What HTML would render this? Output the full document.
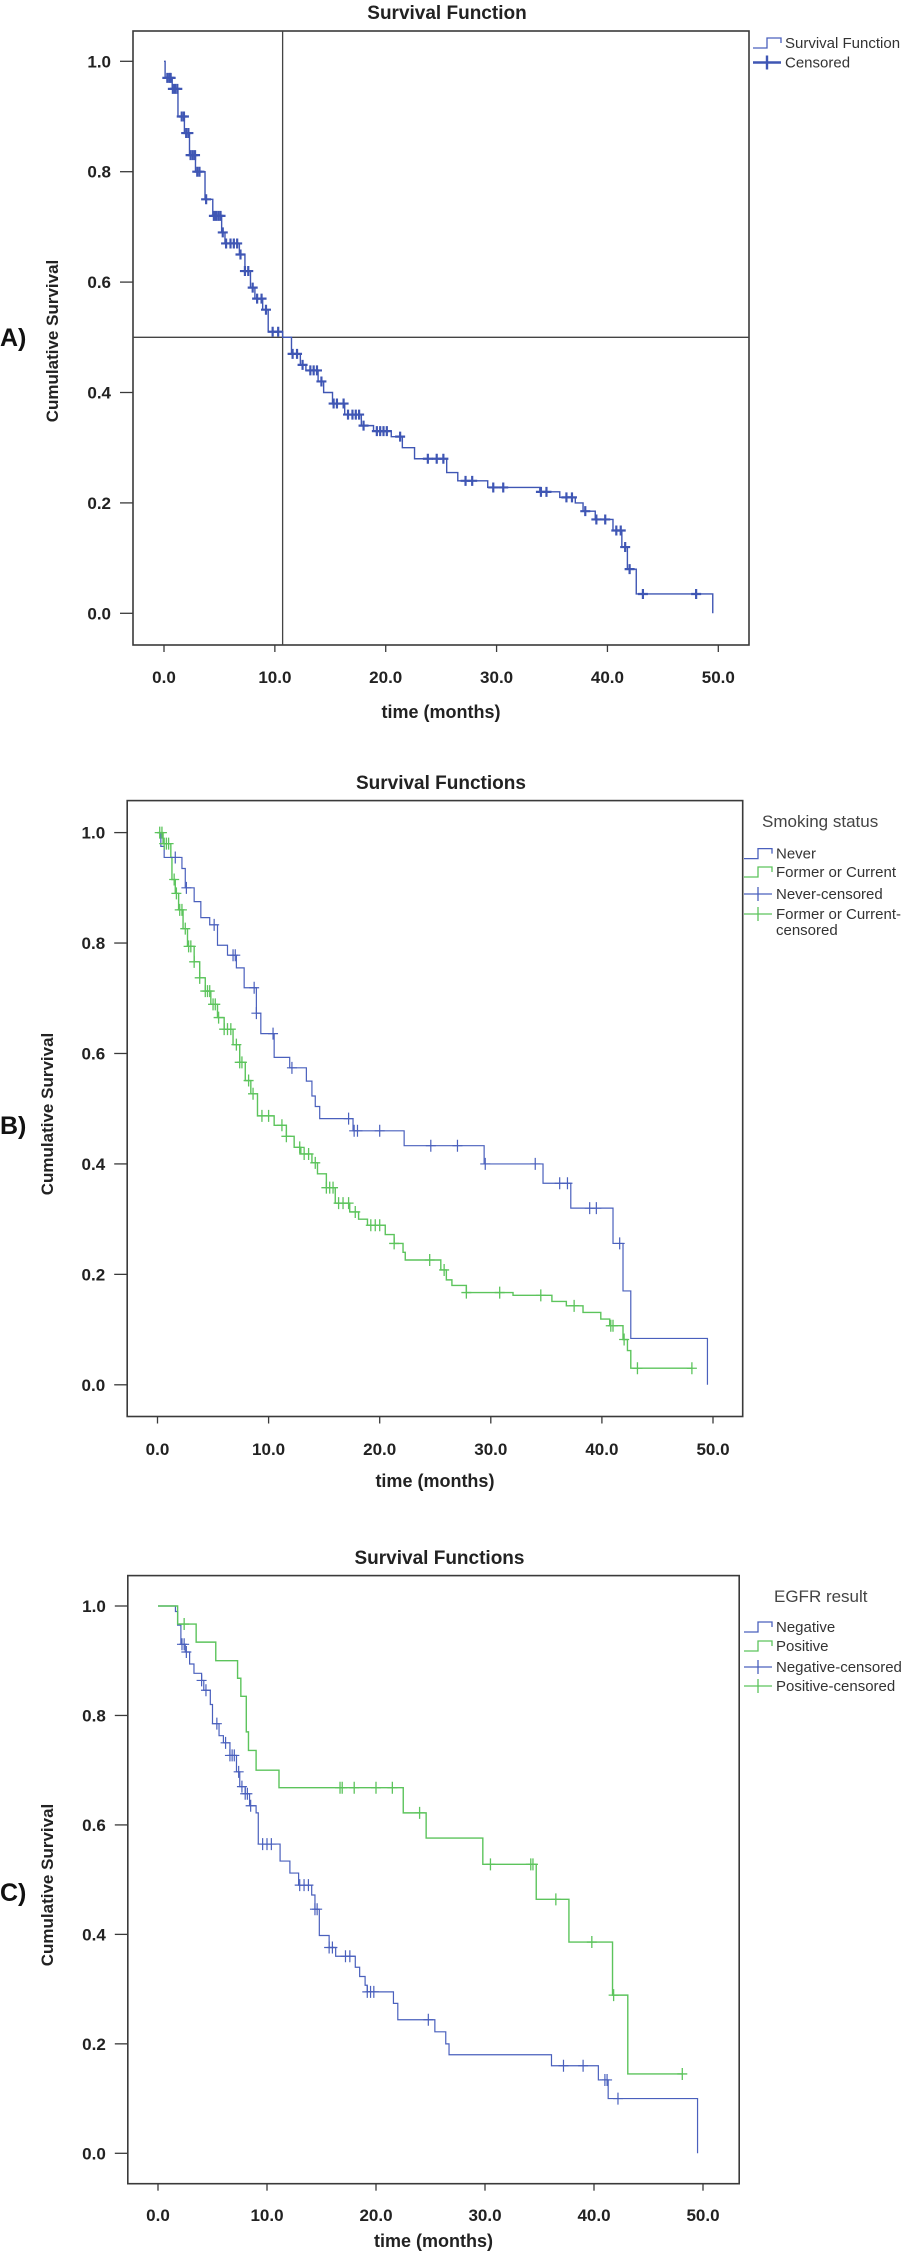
<!DOCTYPE html>
<html><head><meta charset="utf-8"><style>
html,body{margin:0;padding:0;background:#fff;}
svg{display:block;font-family:"Liberation Sans",Arial,sans-serif;}
</style></head><body>
<svg id="fig" width="915" height="2255" viewBox="0 0 915 2255" xmlns="http://www.w3.org/2000/svg"></svg>
<script>
// ---------- DATA ----------
const xTicks = [0, 10, 20, 30, 40, 50];
const xTickLabels = ["0.0", "10.0", "20.0", "30.0", "40.0", "50.0"];
const yTicks = [0, 0.2, 0.4, 0.6, 0.8, 1.0];
const yTickLabels = ["0.0", "0.2", "0.4", "0.6", "0.8", "1.0"];

// Panel A: overall
const aTimes = [0,0.1,0.74,1.26,1.84,2.3,2.84,3.7,4.4,5.2,5.5,6.8,7.3,7.8,8.2,8.9,9.4,10.7,11.5,12.3,12.8,13.9,14.4,15.2,16.3,17.8,18.9,20.5,21.5,22.6,25.5,26.5,29.2,33.9,35.7,37.1,37.8,38.9,40.5,41.3,41.8,42.6,49.5];
const aSurv  = [1.0,0.97,0.95,0.90,0.87,0.83,0.80,0.75,0.72,0.69,0.67,0.65,0.62,0.59,0.57,0.55,0.51,0.50,0.47,0.45,0.44,0.42,0.40,0.38,0.36,0.34,0.33,0.32,0.30,0.28,0.255,0.24,0.228,0.22,0.21,0.20,0.185,0.17,0.15,0.12,0.08,0.035,0.0];
const aCensor = [0.3,0.5,0.6,0.8,1.0,1.2,1.6,1.8,2.0,2.2,2.4,2.6,2.8,3.0,3.2,3.8,4.5,4.7,4.9,5.1,5.3,5.6,6.0,6.3,6.6,6.9,7.3,7.6,8.0,8.4,8.8,9.2,9.8,10.3,11.6,12.0,12.5,13.2,13.5,13.8,14.2,15.3,15.6,16.2,16.6,17.0,17.3,17.6,18.0,19.2,19.5,19.8,20.1,21.3,23.8,24.6,25.2,27.2,27.8,29.7,30.6,34.0,34.5,36.3,36.8,38.0,39.0,39.8,40.8,41.2,41.6,42.0,43.2,48.0];
const aMedianTime = 10.7;
const aMedianSurv = 0.5;

// Panel B: smoking status
const neverTimes = [0,0.3,0.6,2.2,2.5,3.3,3.9,4.7,5.4,6.3,7.1,7.8,8.9,9.3,10.5,11.9,13.4,13.9,14.2,14.6,17.6,22.2,29.4,34.7,37.2,41.0,41.9,42.6,49.5];
const neverSurv  = [1.0,0.975,0.955,0.935,0.90,0.875,0.846,0.833,0.796,0.778,0.755,0.719,0.673,0.636,0.593,0.574,0.55,0.523,0.504,0.482,0.46,0.433,0.40,0.365,0.32,0.256,0.17,0.084,0.0];
const neverCensor = [1.6,2.6,5.1,6.8,7.0,8.7,8.9,10.4,12.1,17.2,17.7,18.0,20.0,24.6,27.0,29.5,34.0,36.2,36.9,38.9,39.5,41.6];
const formerTimes = [0,0.5,1.2,1.3,1.6,1.9,2.3,2.7,3.3,3.8,4.3,4.8,5.4,6.0,6.8,7.4,7.9,8.4,9.0,10.5,11.6,12.3,12.9,13.9,14.4,15.2,16.0,17.3,18.1,18.9,20.5,21.3,22.1,22.3,25.5,26.0,26.5,27.8,32.0,35.5,36.8,38.3,39.9,40.7,41.9,42.3,42.6,48.1];
const formerSurv  = [1.0,0.98,0.955,0.915,0.89,0.86,0.826,0.794,0.766,0.737,0.713,0.689,0.665,0.644,0.616,0.584,0.551,0.527,0.487,0.47,0.45,0.43,0.418,0.402,0.382,0.357,0.329,0.313,0.30,0.289,0.272,0.256,0.24,0.226,0.208,0.19,0.18,0.167,0.162,0.151,0.143,0.131,0.119,0.107,0.082,0.062,0.03,0.03];
const formerCensor = [0.2,0.4,0.6,0.8,1.0,1.5,1.7,2.0,2.2,2.5,2.8,3.0,3.3,3.8,4.3,4.5,4.7,5.0,5.2,5.5,6.0,6.3,6.6,7.1,7.4,7.6,8.2,8.6,9.4,10.0,11.2,11.6,12.8,13.2,13.6,14.2,15.2,15.5,15.8,16.3,16.7,17.2,17.8,19.2,19.6,20.0,21.3,24.5,25.8,27.8,30.8,34.5,37.5,40.8,41.0,42.0,43.2,48.1];

// Panel C: EGFR
const negTimes = [0,1.6,1.8,2.1,2.5,2.9,3.3,4.0,4.2,4.8,5.0,5.6,6.0,6.6,7.2,7.5,8.0,8.4,9.0,9.2,11.2,12.1,12.9,14.1,14.4,14.8,15.7,16.3,18.1,18.5,19.0,19.2,21.6,22.0,25.4,26.4,26.7,36.1,40.4,41.3,49.5];
const negSurv  = [1.0,0.99,0.965,0.93,0.916,0.894,0.877,0.864,0.846,0.82,0.785,0.763,0.75,0.727,0.697,0.67,0.657,0.635,0.622,0.565,0.534,0.512,0.49,0.472,0.446,0.398,0.376,0.36,0.34,0.323,0.307,0.295,0.274,0.244,0.222,0.2,0.18,0.16,0.134,0.10,0.0];
const negCensor = [2.2,2.4,2.6,4.0,4.4,5.4,6.2,6.6,6.8,7.0,7.4,7.7,8.0,8.2,8.5,9.6,10.0,10.4,13.0,13.4,13.8,14.4,14.6,15.7,16.0,17.2,17.6,19.2,19.5,19.8,24.8,37.2,39.0,41.0,41.2,42.2];
const posTimes = [0,1.8,3.5,5.3,7.3,7.6,8.1,8.3,9.0,11.1,22.5,24.6,29.8,34.7,37.7,41.7,43.1,48.1];
const posSurv  = [1.0,0.967,0.934,0.90,0.868,0.835,0.77,0.736,0.70,0.668,0.622,0.576,0.528,0.464,0.386,0.289,0.145,0.145];
const posCensor = [2.4,16.7,16.9,18.0,20.0,21.5,24.0,30.5,34.2,34.4,36.5,39.8,41.8,48.1];

// ---------- DRAWING ----------
const NS = "http://www.w3.org/2000/svg";
const svg = document.getElementById('fig');
const BLUE = "#4a60bd", BLUE_A = "#3f56b4", GREEN = "#5cc45c", FRAME = "#3a3a3a";

function mk(tag, attrs, parent) {
  const e = document.createElementNS(NS, tag);
  for (const k in attrs) e.setAttribute(k, attrs[k]);
  (parent || svg).appendChild(e);
  return e;
}
function txt(s, attrs, parent) { const t = mk('text', attrs, parent); t.textContent = s; return t; }

function survAt(times, surv, t) {
  let v = surv[0];
  for (let i = 0; i < times.length; i++) { if (times[i] <= t) v = surv[i]; else break; }
  return v;
}

function makeAxes(P) {
  P.sx = v => P.x0 + (P.x50 - P.x0) * v / 50;
  P.sy = v => P.y0 - (P.y0 - P.y1) * v;
  return P;
}

function drawFrame(P, g) {
  const f = mk('rect', {x: P.L, y: P.T, width: P.R - P.L, height: P.B - P.T, fill: 'none', stroke: FRAME, 'stroke-width': 1.6}, g);
  
  
  const title = txt(P.title, {x: (P.L + P.R) / 2 + 6, y: P.titleY + 7, 'text-anchor': 'middle', 'font-size': 19, 'font-weight': 'bold', fill: '#222'}, g);
  
  
  yTicks.forEach((v, i) => {
    const y = P.sy(v);
    const tk = mk('line', {x1: P.L - 13, x2: P.L, y1: y, y2: y, stroke: FRAME, 'stroke-width': 1.3}, g);
    
    
    const lb = txt(yTickLabels[i], {x: P.L - 22, y: y + 6, 'text-anchor': 'end', 'font-size': 17, 'font-weight': 'bold', fill: '#222'}, g);
    
    
  });
  xTicks.forEach((v, i) => {
    const x = P.sx(v);
    const tk = mk('line', {x1: x, x2: x, y1: P.B, y2: P.B + 7, stroke: FRAME, 'stroke-width': 1.3}, g);
    
    
    const lb = txt(xTickLabels[i], {x: x, y: P.tickY + 6, 'text-anchor': 'middle', 'font-size': 17, 'font-weight': 'bold', fill: '#222'}, g);
    
    
  });
  const xl = txt('time (months)', {x: (P.L + P.R) / 2, y: P.xlabY + 7, 'text-anchor': 'middle', 'font-size': 18, 'font-weight': 'bold', fill: '#222'}, g);
  
  
  const yl = txt('Cumulative Survival', {x: 0, y: 0, 'text-anchor': 'middle', 'font-size': 17, 'font-weight': 'bold', fill: '#222', transform: `translate(${P.ylabX + 6},${P.ylabY}) rotate(-90)`}, g);
  
  
  const pl = txt(P.letter, {x: 0, y: P.letterY + 9, 'font-size': 25, 'font-weight': 'bold', fill: '#111'}, g);
  
  
}

function drawCurve(P, g, times, surv, endDrop, color, width, name) {
  let d = `M${P.sx(times[0])},${P.sy(surv[0])}`;
  for (let i = 1; i < times.length; i++) {
    d += ` H${P.sx(times[i])} V${P.sy(surv[i])}`;
  }
  const p = mk('path', {d: d, fill: 'none', stroke: color, 'stroke-width': width}, g);
  
  
}

function drawCensor(P, g, times, surv, cens, color, w, hv, hh, name) {
  cens.forEach(t => {
    const x = P.sx(t), y = P.sy(survAt(times, surv, t));
    const m = mk('path', {d: `M${x},${y - hv} V${y + hv} M${x - hh},${y} H${x + hh}`, stroke: color, 'stroke-width': w, fill: 'none'}, g);
    
    
  });
}

function legendItem(g, x, y, label, color, kind, name) {
  const gg = mk('g', {}, g);
  
  
  if (kind === 'step') {
    mk('path', {d: `M${x},${y + 5} H${x + 14} V${y - 5} H${x + 28} V${y}`, fill: 'none', stroke: color, 'stroke-width': 1.3}, gg);
  } else {
    mk('path', {d: `M${x},${y} H${x + 28} M${x + 14},${y - 7} V${y + 7}`, fill: 'none', stroke: color, 'stroke-width': kind === 'censorBold' ? 2.4 : 1.3}, gg);
  }
  const lines = label.split('\n');
  lines.forEach((l, i) => txt(l, {x: x + 32, y: y + 5 + i * 16, 'font-size': 15, fill: '#333', 'font-family': '"Liberation Sans Narrow","Liberation Sans",sans-serif'}, gg));
}

// Panel A
const PA = makeAxes({L: 133, T: 31, R: 749, B: 645, x0: 164, x50: 718.3, y1: 61.3, y0: 613.3, title: 'Survival Function', titleY: 12, tickY: 677, xlabY: 711, ylabX: 52, ylabY: 341, letter: 'A)', letterY: 337});
const gA = mk('g', {});  
drawFrame(PA, gA);
const vLine = mk('line', {x1: PA.sx(aMedianTime), x2: PA.sx(aMedianTime), y1: PA.T, y2: PA.B, stroke: '#444', 'stroke-width': 1.3}, gA);


const hLine = mk('line', {x1: PA.L, x2: PA.R, y1: PA.sy(aMedianSurv), y2: PA.sy(aMedianSurv), stroke: '#444', 'stroke-width': 1.3}, gA);


drawCurve(PA, gA, aTimes, aSurv, true, BLUE_A, 1.4, 'survival-curve');
drawCensor(PA, gA, aTimes, aSurv, aCensor, BLUE_A, 2.2, 5, 5, 'censored-mark');
legendItem(gA, 753, 43, 'Survival Function', BLUE, 'step', 'legend-survival-function');
legendItem(gA, 753, 62.5, 'Censored', BLUE_A, 'censorBold', 'legend-censored');

// Panel B
const PB = makeAxes({L: 127.2, T: 800.6, R: 742.7, B: 1416.5, x0: 157.5, x50: 713, y1: 832.6, y0: 1384.8, title: 'Survival Functions', titleY: 782, tickY: 1449, xlabY: 1480, ylabX: 47, ylabY: 1114, letter: 'B)', letterY: 1125});
const gB = mk('g', {});  
drawFrame(PB, gB);
drawCurve(PB, gB, neverTimes, neverSurv, true, BLUE, 1.2, 'never-smoker-curve');
drawCurve(PB, gB, formerTimes, formerSurv, false, GREEN, 1.4, 'former-current-curve');
drawCensor(PB, gB, neverTimes, neverSurv, neverCensor, BLUE, 1.2, 6, 5, 'never-censored-mark');
drawCensor(PB, gB, formerTimes, formerSurv, formerCensor, GREEN, 1.3, 6, 5, 'former-censored-mark');
const lgB = txt('Smoking status', {x: 762, y: 827, 'font-size': 17, fill: '#444'}, gB);


legendItem(gB, 744, 853.6, 'Never', BLUE, 'step', 'legend-never');
legendItem(gB, 744, 872, 'Former or Current', GREEN, 'step', 'legend-former-current');
legendItem(gB, 744, 894, 'Never-censored', BLUE, 'censor', 'legend-never-censored');
legendItem(gB, 744, 914, 'Former or Current-\ncensored', GREEN, 'censor', 'legend-former-censored');

// Panel C
const PC = makeAxes({L: 127.8, T: 1575.6, R: 739.2, B: 2183.7, x0: 158, x50: 703, y1: 1606, y0: 2153.3, title: 'Survival Functions', titleY: 1557, tickY: 2215, xlabY: 2240, ylabX: 47, ylabY: 1885, letter: 'C)', letterY: 1892});
const gC = mk('g', {});  
drawFrame(PC, gC);
drawCurve(PC, gC, negTimes, negSurv, true, BLUE, 1.2, 'egfr-negative-curve');
drawCurve(PC, gC, posTimes, posSurv, false, GREEN, 1.4, 'egfr-positive-curve');
drawCensor(PC, gC, negTimes, negSurv, negCensor, BLUE, 1.2, 6, 5, 'negative-censored-mark');
drawCensor(PC, gC, posTimes, posSurv, posCensor, GREEN, 1.3, 6, 5, 'positive-censored-mark');
const lgC = txt('EGFR result', {x: 774, y: 1602, 'font-size': 17, fill: '#444'}, gC);


legendItem(gC, 744, 1627, 'Negative', BLUE, 'step', 'legend-negative');
legendItem(gC, 744, 1646, 'Positive', GREEN, 'step', 'legend-positive');
legendItem(gC, 744, 1667, 'Negative-censored', BLUE, 'censor', 'legend-negative-censored');
legendItem(gC, 744, 1686, 'Positive-censored', GREEN, 'censor', 'legend-positive-censored');
</script>
</body></html>
